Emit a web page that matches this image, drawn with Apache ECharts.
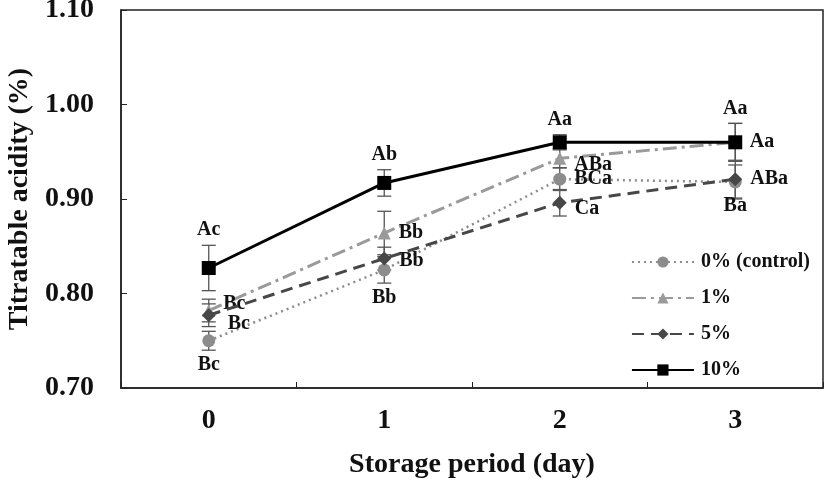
<!DOCTYPE html>
<html><head><meta charset="utf-8">
<script src="https://cdn.jsdelivr.net/npm/echarts@6/dist/echarts.min.js"></script>
<style>html,body{margin:0;padding:0;background:#fff}#c{width:827px;height:480px}</style>
</head><body><div id="c"></div>
<script>
const days = ['0','1','2','3'];
const seriesNames = ['0% (control)','1%','5%','10%'];
const v0 = [0.750, 0.825, 0.921, 0.918];
const v1 = [0.782, 0.864, 0.943, 0.960];
const v5 = [0.777, 0.837, 0.896, 0.921];
const v10 = [0.827, 0.917, 0.960, 0.960];
const e0 = [0.010, 0.014, 0.012, 0.018];
const e1 = [0.012, 0.023, 0.010, 0.020];
const e5 = [0.012, 0.012, 0.014, 0.020];
const e10 = [0.024, 0.014, 0.008, 0.020];
const l0 = ['Bc','Bb','BCa','Ba'];
const l1 = ['Bc','Bb','ABa','Aa'];
const l5 = ['Bc','Bb','Ca','ABa'];
const l10 = ['Ac','Ab','Aa','Aa'];
const yTicks = ['0.70','0.80','0.90','1.00','1.10'];

const FONT = 'Liberation Serif';
const PXPER = 945; // px per unit of y (approx, for label distance)
const vals = [v0, v1, v5, v10];
const errs = [e0, e1, e5, e10];
const labs = [l0, l1, l5, l10];
const colors = ['#8c8c8c', '#9a9a9a', '#474747', '#000000'];
const lineTypes = [[2,4], [14,5,3,5], [12,7], 'solid'];
const widths = [2.5, 3, 3, 3];
const symbols = ['circle', 'triangle', 'diamond', 'rect'];
const symSizes = [13, 13, 14, 14];
const labPos = [
  ['bottom','bottom','right','bottom'],
  ['right','right','right','right'],
  ['right','right','right','right'],
  ['top','top','top','top']
];
const labOff = [
  [[0,0],[0,0],[0,0],[0,-8]],
  [[0,-7],[0,0],[0,6],[0,0]],
  [[4,9],[0,2],[0,6],[0,0]],
  [[0,0],[0,0],[0,0],[0,0]]
];

const series = [];
vals.forEach((v, s) => {
  series.push({
    type: 'custom', name: seriesNames[s] + '_err', silent: true, z: 1,
    data: v.map((y, i) => [i, y, errs[s][i]]),
    renderItem: function (params, api) {
      const x = api.value(0), y = api.value(1), e = api.value(2);
      const top = api.coord([x, y + e]), bot = api.coord([x, y - e]);
      const w = 7;
      const st = { stroke: '#555', lineWidth: 1.3 };
      return { type: 'group', children: [
        { type: 'line', shape: { x1: top[0], y1: top[1], x2: bot[0], y2: bot[1] }, style: st },
        { type: 'line', shape: { x1: top[0] - w, y1: top[1], x2: top[0] + w, y2: top[1] }, style: st },
        { type: 'line', shape: { x1: bot[0] - w, y1: bot[1], x2: bot[0] + w, y2: bot[1] }, style: st }
      ]};
    }
  });
});
vals.forEach((v, s) => {
  series.push({
    type: 'line', name: seriesNames[s], z: 3 + s,
    symbol: symbols[s], symbolSize: symSizes[s],
    itemStyle: { color: colors[s] },
    lineStyle: { color: colors[s], width: widths[s], type: lineTypes[s] },
    data: v.map((y, i) => {
      const pos = labPos[s][i];
      const d = (pos === 'top' || pos === 'bottom') ? Math.max(4, errs[s][i] * PXPER - 2) : 8;
      return {
        value: y,
        label: { show: true, position: pos, formatter: labs[s][i], distance: d, offset: labOff[s][i],
          fontFamily: FONT, fontWeight: 'bold', fontSize: 20, color: '#111' }
      };
    })
  });
});

const chart = echarts.init(document.getElementById('c'), null, { renderer: 'canvas' });
chart.setOption({
  animation: false,
  backgroundColor: '#fff',
  grid: { left: 121, right: 4, top: 10, bottom: 92, outerBoundsMode: 'none', containLabel: false,
    show: true, borderColor: '#222', borderWidth: 1.5 },
  legend: {
    data: seriesNames, orient: 'vertical', right: 12, top: 247, itemGap: 16,
    itemWidth: 62, itemHeight: 14,
    textStyle: { fontFamily: FONT, fontWeight: 'bold', fontSize: 20, color: '#111', padding: [0, 0, 0, 2] }
  },
  xAxis: {
    type: 'category', data: days, boundaryGap: true,
    name: 'Storage period (day)', nameLocation: 'middle', nameGap: 63,
    nameTextStyle: { fontFamily: FONT, fontWeight: 'bold', fontSize: 28, color: '#111' },
    axisLine: { lineStyle: { color: '#222', width: 1.5 } },
    axisTick: { show: true, inside: true, length: 6, lineStyle: { color: '#222' } },
    axisLabel: { fontFamily: FONT, fontWeight: 'bold', fontSize: 28, color: '#111', margin: 19 },
    splitLine: { show: false }
  },
  yAxis: {
    type: 'value', min: 0.7, max: 1.1, interval: 0.1,
    name: 'Titratable acidity (%)', nameLocation: 'middle', nameGap: 86,
    nameTextStyle: { fontFamily: FONT, fontWeight: 'bold', fontSize: 28, color: '#111' },
    axisLine: { show: true, lineStyle: { color: '#222', width: 1.5 } },
    axisTick: { show: true, inside: true, length: 6, lineStyle: { color: '#222' } },
    axisLabel: { fontFamily: FONT, fontWeight: 'bold', fontSize: 28, color: '#111', margin: 27,
      formatter: function (val) { const i = Math.round((val - 0.7) / 0.1); return yTicks[i] !== undefined ? yTicks[i] : ''; } },
    splitLine: { show: false }
  },
  series: series
});
</script></body></html>
